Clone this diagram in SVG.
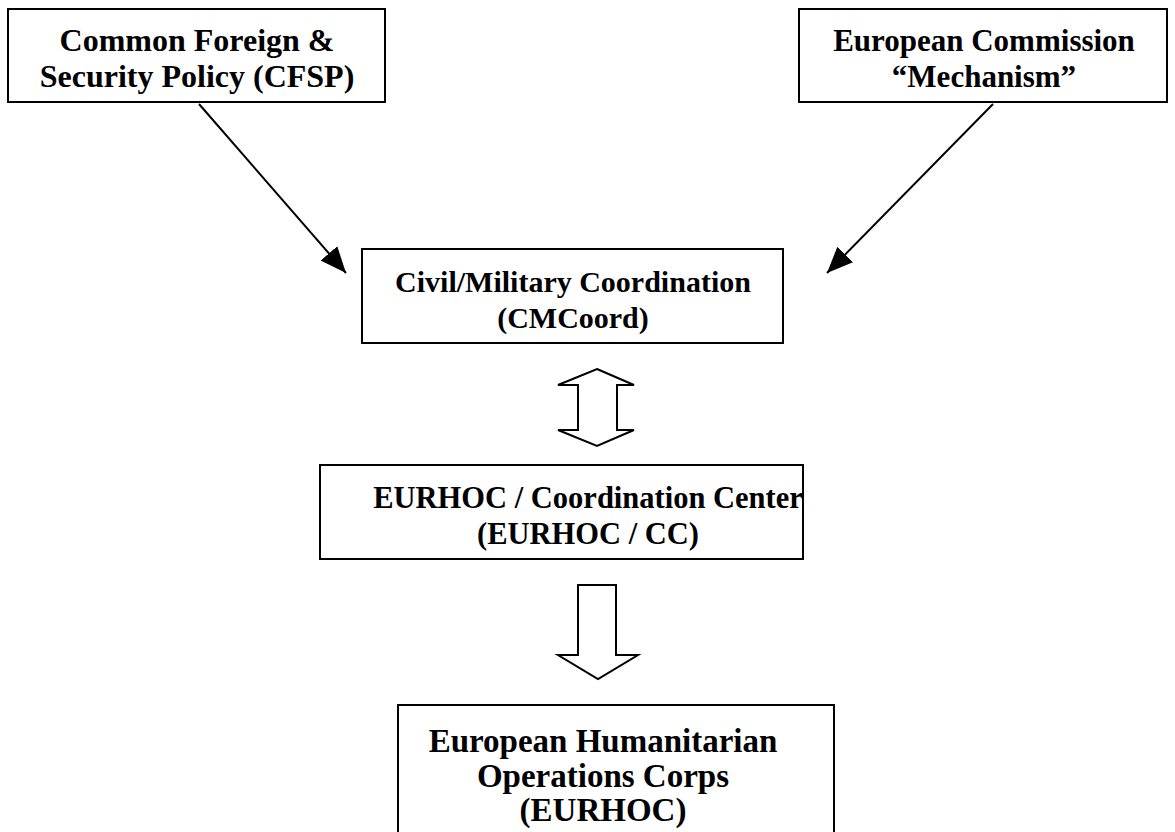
<svg xmlns="http://www.w3.org/2000/svg" width="1175" height="832" viewBox="0 0 1175 832">
  <style>
    .box { fill: #ffffff; stroke: #000000; stroke-width: 2; }
    .lbl { font-family: "Liberation Serif", "Times New Roman", serif; font-weight: bold; fill: #000000; text-anchor: middle; }
    .conn { stroke: #000000; stroke-width: 2; fill: none; }
    .block { fill: #ffffff; stroke: #000000; stroke-width: 2; stroke-linejoin: miter; }
  </style>
  <defs>
    <marker id="ah" markerUnits="userSpaceOnUse" markerWidth="30" markerHeight="26" refX="26" refY="11" orient="auto">
      <path d="M0,0 L26,11 L0,22 z" fill="#000000"/>
    </marker>
  </defs>
  <rect width="1175" height="832" fill="#ffffff"/>

  <g id="connectors">
    <line class="conn" x1="199" y1="104" x2="346" y2="273" marker-end="url(#ah)"/>
    <line class="conn" x1="993" y1="104" x2="827" y2="273" marker-end="url(#ah)"/>
    <path id="double-arrow" class="block" d="M597,369 L634,385 L617,385 L617,430 L634,430 L597,446 L558,430 L578,430 L578,385 L558,385 Z"/>
    <path id="down-arrow" class="block" d="M578,585 L616,585 L616,655 L638,655 L598,679 L558,655 L578,655 Z"/>
  </g>

  <g id="node-cfsp">
    <rect class="box" x="8" y="9" width="377" height="93"/>
    <text class="lbl" font-size="32" x="197" y="51">Common Foreign &amp;</text>
    <text class="lbl" font-size="32" x="197" y="87">Security Policy (CFSP)</text>
  </g>

  <g id="node-ec">
    <rect class="box" x="799" y="9" width="368" height="93"/>
    <text class="lbl" font-size="31" x="984" y="51">European Commission</text>
    <text class="lbl" font-size="31" x="984" y="87">“Mechanism”</text>
  </g>

  <g id="node-cmcoord">
    <rect class="box" x="362" y="249" width="421" height="94"/>
    <text class="lbl" font-size="30" x="573" y="292">Civil/Military Coordination</text>
    <text class="lbl" font-size="30" x="573" y="328">(CMCoord)</text>
  </g>

  <g id="node-cc">
    <rect class="box" x="320" y="465" width="483" height="94"/>
    <text class="lbl" font-size="30.5" x="588" y="508">EURHOC / Coordination Center</text>
    <text class="lbl" font-size="30.5" x="588" y="544">(EURHOC / CC)</text>
  </g>

  <g id="node-eurhoc">
    <rect class="box" x="398" y="705" width="436" height="140"/>
    <text class="lbl" font-size="33" x="603" y="752">European Humanitarian</text>
    <text class="lbl" font-size="33" x="603" y="787">Operations Corps</text>
    <text class="lbl" font-size="33" x="603" y="821">(EURHOC)</text>
  </g>
</svg>
